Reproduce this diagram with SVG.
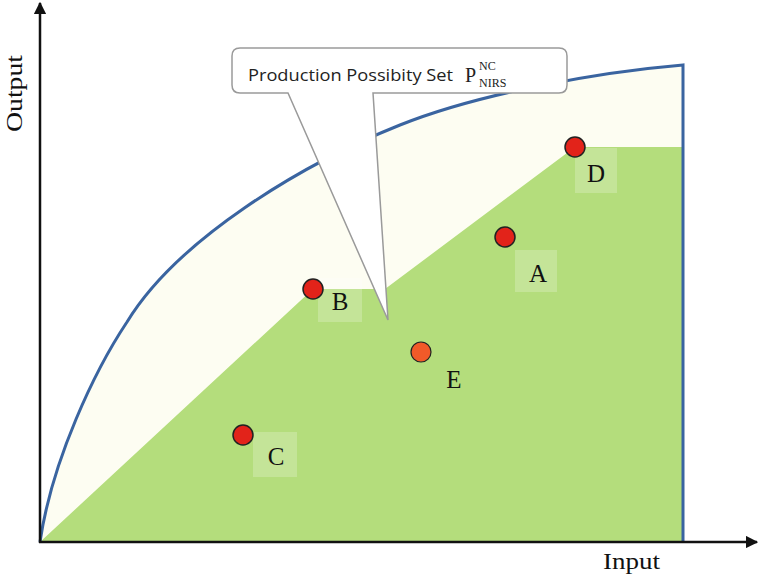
<svg xmlns="http://www.w3.org/2000/svg" width="761" height="582" viewBox="0 0 761 582">
<defs>
<style>
.axis{stroke:#111;stroke-width:2.5;fill:none}
.pt{fill:#e2231a;stroke:#222;stroke-width:1.5}
.pe{fill:#f15a29;stroke:#222;stroke-width:1.2}
.lbl{font-family:"Liberation Serif",serif;font-size:25px;fill:#111;text-anchor:middle}
.lbox{fill:#ffffff;fill-opacity:0.22}
.ax{font-family:"Liberation Serif",serif;font-size:24px;fill:#111}
.sub{font-family:"Liberation Serif",serif;font-size:12px;fill:#222}
</style>
<marker id="arr" viewBox="0 0 10 10" refX="9" refY="5" markerWidth="5" markerHeight="5" orient="auto-start-reverse" markerUnits="strokeWidth">
<path d="M0,0 L10,5 L0,10 z" fill="#111"/>
</marker>
</defs>
<rect width="761" height="582" fill="#fff"/>
<g id="frontier-area">
<path d="M40,542 C52,460 95,370 127,322 C177,240 300,165 400,125 C480,93 600,72 683,65 L683,542 Z" fill="#fdfdf2"/>
</g>
<g id="production-set">
<path d="M40,542 L313,289 L385,289 L575,147 L683,147 L683,542 Z" fill="#b4dd7c"/>
</g>
<g id="curve">
<path d="M40,542 C52,460 95,370 127,322 C177,240 300,165 400,125 C480,93 600,72 683,65 L683,542" fill="none" stroke="#3a64a0" stroke-width="3"/>
</g>
<g id="axes">
<line class="axis" x1="40" y1="543" x2="40" y2="3" marker-end="url(#arr)"/>
<line class="axis" x1="39" y1="542" x2="757" y2="542" marker-end="url(#arr)"/>
<text class="ax" transform="translate(22,132) rotate(-90)" textLength="77" lengthAdjust="spacingAndGlyphs">Output</text>
<text class="ax" x="603" y="569" textLength="57" lengthAdjust="spacingAndGlyphs">Input</text>
</g>
<g id="callout">
<path d="M240,48 H559 Q567,48 567,56 V85 Q567,93 559,93 H373 L388,320 L288,93 H240 Q232,93 232,85 V56 Q232,48 240,48 Z" fill="#fff" stroke="#9a9a9a" stroke-width="1.5"/>
<text x="248" y="81" font-family="'Open Sans','Liberation Sans',sans-serif" font-size="16" fill="#222" textLength="205" lengthAdjust="spacingAndGlyphs">Production Possibity Set</text>
<text x="465" y="82" font-family="'Liberation Serif',serif" font-size="20" fill="#222">P</text>
<text class="sub" x="479" y="70">NC</text>
<text class="sub" x="479" y="87">NIRS</text>
</g>
<g id="node-D">
<rect class="lbox" x="575" y="148" width="42" height="45"/>
<circle class="pt" cx="575" cy="147" r="10"/>
<text class="lbl" x="596" y="182">D</text>
</g>
<g id="node-A">
<rect class="lbox" x="515" y="250" width="42" height="42"/>
<circle class="pt" cx="505" cy="237" r="10"/>
<text class="lbl" x="538" y="282">A</text>
</g>
<g id="node-B">
<rect class="lbox" x="318" y="278" width="44" height="44"/>
<circle class="pt" cx="313" cy="289" r="10"/>
<text class="lbl" x="340" y="310">B</text>
</g>
<g id="node-E">
<circle class="pe" cx="421" cy="352" r="10"/>
<text class="lbl" x="454" y="388">E</text>
</g>
<g id="node-C">
<rect class="lbox" x="253" y="432" width="44" height="45"/>
<circle class="pt" cx="243" cy="435" r="10"/>
<text class="lbl" x="276" y="465">C</text>
</g>
</svg>
